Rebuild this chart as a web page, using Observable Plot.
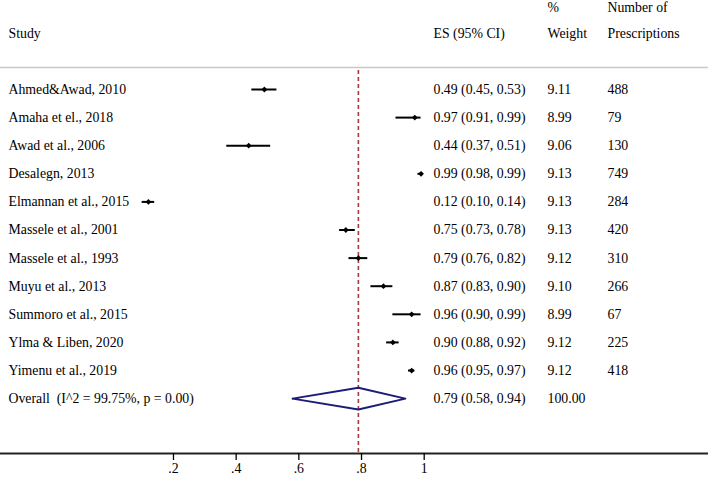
<!DOCTYPE html>
<html>
<head>
<meta charset="utf-8">
<script src="https://cdn.jsdelivr.net/npm/d3@7"></script>
<script src="https://cdn.jsdelivr.net/npm/@observablehq/plot@0.6"></script>
<style>
  html, body { margin: 0; padding: 0; background: #fff; overflow: hidden; }
</style>
</head>
<body>
<div id="chart"></div>
<script>
// ---- Data ----
const studies = [
  "Ahmed&Awad, 2010", "Amaha et el., 2018", "Awad et al., 2006", "Desalegn, 2013",
  "Elmannan et al., 2015", "Massele et al., 2001", "Massele et al., 1993", "Muyu et al., 2013",
  "Summoro et al., 2015", "Ylma & Liben, 2020", "Yimenu et al., 2019"
];
const es  = [0.49, 0.97, 0.44, 0.99, 0.12, 0.75, 0.79, 0.87, 0.96, 0.90, 0.96];
const lo  = [0.45, 0.91, 0.37, 0.98, 0.10, 0.73, 0.76, 0.83, 0.90, 0.88, 0.95];
const hi  = [0.53, 0.99, 0.51, 0.99, 0.14, 0.78, 0.82, 0.90, 0.99, 0.92, 0.97];
const weights = ["9.11", "8.99", "9.06", "9.13", "9.13", "9.13", "9.12", "9.10", "8.99", "9.12", "9.12"];
const prescriptions = [488, 79, 130, 749, 284, 420, 310, 266, 67, 225, 418];
const overallLabel = "Overall  (I^2 = 99.75%, p = 0.00)";
const overallES = 0.79, overallLo = 0.58, overallHi = 0.94, overallWeight = "100.00";
const xTicks = [0.2, 0.4, 0.6, 0.8, 1];
const headers = {study: "Study", es: "ES (95% CI)", w1: "%", w2: "Weight", n1: "Number of", n2: "Prescriptions"};

// ---- Layout (in scale units) ----
const yDomain = [-3.167, 12.953];           // row index domain
const col = {study: -0.3264, es: 1.0297, w: 1.3934, n: 1.5849};
const headerRow = -2, headerTopRow = -2.93, sepRow = -0.78, diamondHalf = 0.39;

const rows = studies.map((s, i) => ({
  row: i, study: s, es: es[i], lo: lo[i], hi: hi[i],
  esText: `${es[i].toFixed(2)} (${lo[i].toFixed(2)}, ${hi[i].toFixed(2)})`,
  weight: weights[i], n: String(prescriptions[i])
}));
const overallRow = studies.length;
const overall = [{
  row: overallRow, study: overallLabel,
  esText: `${overallES.toFixed(2)} (${overallLo.toFixed(2)}, ${overallHi.toFixed(2)})`,
  weight: overallWeight, n: ""
}];
const diamond = [
  {x: overallLo, y: overallRow},
  {x: overallES, y: overallRow - diamondHalf},
  {x: overallHi, y: overallRow},
  {x: overallES, y: overallRow + diamondHalf},
  {x: overallLo, y: overallRow}
];
const textRows = rows.concat(overall);

const fmtTick = d => d === 1 ? "1" : String(d).replace(/^0/, "");

const chart = Plot.plot({
  width: 708,
  height: 477,
  marginTop: 0, marginLeft: 0, marginRight: 0, marginBottom: 24,
  style: "font-family: 'Liberation Serif', 'Times New Roman', serif; font-size: 13.8px; white-space: pre; background: #fff; color: #000;",
  x: {domain: [0, 1], range: [110.3, 423.7], axis: null},
  y: {domain: yDomain, range: [0, 453], axis: null},
  marks: [
    // header separator
    Plot.ruleY([sepRow], {stroke: "#c8c8c8", strokeWidth: 1.5}),
    // headers
    Plot.text([headers.study], {x: col.study, y: headerRow, text: d => d, textAnchor: "start"}),
    Plot.text([headers.es], {x: col.es, y: headerRow, text: d => d, textAnchor: "start"}),
    Plot.text([headers.w1], {x: col.w, y: headerTopRow, text: d => d, textAnchor: "start"}),
    Plot.text([headers.w2], {x: col.w, y: headerRow, text: d => d, textAnchor: "start"}),
    Plot.text([headers.n1], {x: col.n, y: headerTopRow, text: d => d, textAnchor: "start"}),
    Plot.text([headers.n2], {x: col.n, y: headerRow, text: d => d, textAnchor: "start"}),
    // overall effect reference line
    Plot.ruleX([overallES], {y1: sepRow + 0.1, y2: yDomain[1], stroke: "#a8383c", strokeWidth: 1.6, strokeDasharray: "4,3"}),
    // CIs
    Plot.ruleY(rows, {y: "row", x1: "lo", x2: "hi", stroke: "#000", strokeWidth: 2}),
    Plot.dot(rows, {x: "es", y: "row", symbol: "diamond2", r: 2.6, fill: "#000", stroke: null}),
    // overall diamond
    Plot.line(diamond, {x: "x", y: "y", stroke: "#1c1c78", strokeWidth: 2}),
    // table text
    Plot.text(textRows, {x: col.study, y: "row", text: "study", textAnchor: "start"}),
    Plot.text(textRows, {x: col.es, y: "row", text: "esText", textAnchor: "start"}),
    Plot.text(textRows, {x: col.w, y: "row", text: "weight", textAnchor: "start"}),
    Plot.text(textRows, {x: col.n, y: "row", text: "n", textAnchor: "start"}),
    // x axis
    Plot.ruleY([yDomain[1]], {stroke: "#222", strokeWidth: 2}),
    Plot.axisX(xTicks, {anchor: "bottom", tickFormat: fmtTick, tickSize: 7, tickPadding: 3, strokeWidth: 1.3, label: null, fontSize: 13.8})
  ]
});
document.getElementById("chart").appendChild(chart);
</script>
</body>
</html>
